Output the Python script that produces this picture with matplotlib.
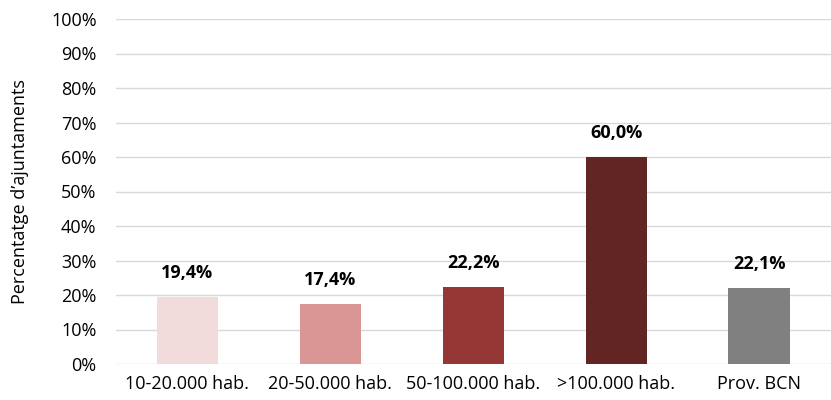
import matplotlib.pyplot as plt
from matplotlib.ticker import PercentFormatter

categories = ['10-20.000 hab.', '20-50.000 hab.', '50-100.000 hab.', '>100.000 hab.', 'Prov. BCN']
values = [19.4, 17.4, 22.2, 60.0, 22.1]
colors = ['#F2DCDB', '#D99694', '#953735', '#632523', '#808080']

plt.rcParams['font.family'] = ['Open Sans', 'DejaVu Sans']

fig = plt.figure(figsize=(8.31, 4.0), dpi=100)
ax = fig.add_axes([0.1396, 0.09, 0.86, 0.8625])

x = range(len(categories))
ax.bar(x, values, width=0.43, color=colors, zorder=3)
for i, v in enumerate(values):
    ax.text(i, v + 7.0, f'{v:.1f}%'.replace('.', ','), ha='center', va='center',
            fontsize=13, fontweight='bold', color='#000000')

ax.set_xlim(-0.5, len(categories) - 0.5)
ax.set_ylim(0, 100)
ax.set_yticks(range(0, 101, 10))
ax.yaxis.set_major_formatter(PercentFormatter(decimals=0))
ax.set_xticks(list(x))
ax.set_xticklabels(categories)
ax.grid(axis='y', color='#D9D9D9', linewidth=1, zorder=0)
ax.tick_params(length=0, labelsize=13, colors='#000000')
ax.tick_params(axis='x', pad=8)
ax.tick_params(axis='y', pad=14)
for s in ax.spines.values():
    s.set_visible(False)
ax.set_ylabel('Percentatge d’ajuntaments', fontsize=13, labelpad=16)

fig.savefig('out.png', dpi=100)
